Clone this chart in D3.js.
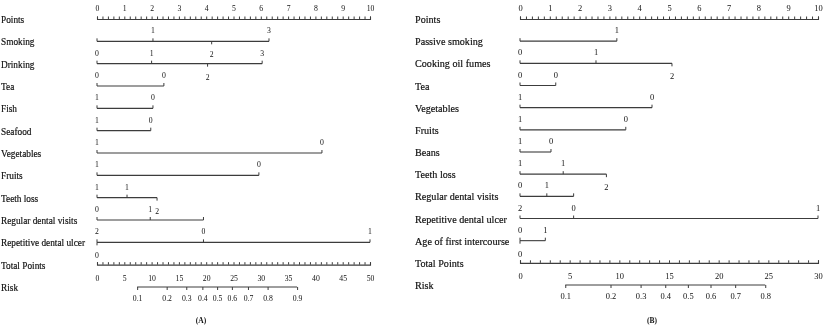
<!DOCTYPE html>
<html>
<head>
<meta charset="utf-8">
<script src="https://d3js.org/d3.v7.min.js"></script>
<title>Nomograms</title>
<style>
  body { margin: 0; background: #fff; }
  svg { filter: grayscale(100%); }
  text { font-family: "Liberation Serif", "Times New Roman", serif; fill: #111; }
</style>
</head>
<body>
<div id="chart"></div>
<script>
// ---- panel A ----
var namesA = ["Smoking", "Drinking", "Tea", "Fish", "Seafood", "Vegetables", "Fruits",
              "Teeth loss", "Regular dental visits", "Repetitive dental ulcer"];
var levelsA = [["", "1", "2", "3"], ["0", "1", "2", "3"], ["0", "0"], ["1", "0"], ["1", "0"],
               ["1", "0"], ["1", "0"], ["1", "1", "2"], ["0", "1", ""], ["2", "0", "1", "0"]];
var pointsA = [[0, 2.05, 4.2, 6.3], [0, 2.0, 4.05, 6.05], [0, 2.45], [0, 2.05], [0, 1.97],
               [0, 8.24], [0, 5.93], [0, 1.1, 2.2], [0, 1.95, 3.9], [0, 3.9, 10, 0]];
var belowA = [[2], [2], [], [], [], [], [], [2], [], [3]];   // level labels drawn under the line
var totalMaxA = 50;
var riskTicksA = [0.1, 0.2, 0.3, 0.4, 0.5, 0.6, 0.7, 0.8, 0.9];
var lpMidA = 22, lpSlopeA = 0.15;   // total points at risk 0.5, logit per point

// ---- panel B ----
var namesB = ["Passive smoking", "Cooking oil fumes", "Tea", "Vegetables", "Fruits", "Beans",
              "Teeth loss", "Regular dental visits", "Repetitive dental ulcer", "Age of first intercourse"];
var levelsB = [["", "1"], ["0", "1", "2"], ["0", "0"], ["1", "0"], ["1", "0"], ["1", "0"],
               ["1", "1", "2"], ["0", "1", ""], ["2", "0", "1"], ["0", "1", "0"]];
var pointsB = [[0, 3.25], [0, 2.55, 5.1], [0, 1.2], [0, 4.43], [0, 3.55], [0, 1.04],
               [0, 1.45, 2.9], [0, 0.9, 1.8], [0, 1.8, 10], [0, 0.85, 0]];
var belowB = [[], [2], [], [], [], [], [2], [], [], [2]];
var totalMaxB = 30;
var riskTicksB = [0.1, 0.2, 0.3, 0.4, 0.5, 0.6, 0.7, 0.8];
var lpMidB = 16.9, lpSlopeB = 0.178;

var pointTicks = d3.range(0, 10.001, 0.2);

var svg = d3.select("#chart").append("svg")
    .attr("width", 825)
    .attr("height", 328);

var lineColor = "#3c3c3c";
var logit = function(p) { return Math.log(p / (1 - p)); };

function drawPanel(cfg) {
  var g = svg.append("g").attr("color", lineColor);
  var x = d3.scaleLinear().domain([0, 10]).range(cfg.xr);
  var rows = ["Points"].concat(cfg.names, ["Total Points", "Risk"]);
  var y = d3.scalePoint().domain(rows).range(cfg.yr);

  // row names
  g.selectAll("text.rowname").data(rows).enter().append("text")
    .attr("class", "rowname")
    .attr("transform", function(d) { return "translate(" + cfg.lx + "," + (y(d) + 4) + ") scale(" + cfg.sx + ",1)"; })
    .style("font-size", "10.8px")
    .attr("stroke", "#111").attr("stroke-width", 0.2)
    .text(function(d) { return d; });

  // points axis
  var pAxis = g.append("g").attr("transform", "translate(0," + y("Points") + ")")
    .call(d3.axisTop(x).tickValues(pointTicks).tickSizeInner(2.5).tickSizeOuter(2.5).tickPadding(5.5)
      .tickFormat(function(d) { return Math.abs(d - Math.round(d)) < 1e-6 ? Math.round(d) : ""; }));
  styleAxis(pAxis, cfg.sx);

  // variable rows
  cfg.names.forEach(function(name, i) {
    var yy = y(name);
    var pts = cfg.points[i];
    var row = g.append("g").attr("transform", "translate(0," + yy + ")");
    row.append("line")
      .attr("x1", x(0)).attr("x2", x(d3.max(pts)))
      .attr("stroke", lineColor).attr("stroke-width", 1.1);
    var lv = pts.map(function(p, j) {
      return { p: p, label: cfg.levels[i][j], below: cfg.below[i].indexOf(j) >= 0 };
    });
    row.selectAll("line.tick").data(lv).enter().append("line")
      .attr("class", "tick")
      .attr("x1", function(d) { return x(d.p); }).attr("x2", function(d) { return x(d.p); })
      .attr("y1", 0).attr("y2", function(d) { return d.below ? 3 : -3; })
      .attr("stroke", lineColor);
    row.selectAll("text").data(lv).enter().append("text")
      .attr("transform", function(d) { return "translate(" + x(d.p) + "," + (d.below ? 16 : -8) + ") scale(" + cfg.sx + ",1)"; })
      .attr("text-anchor", "middle")
      .style("font-size", "9px")
      .text(function(d) { return d.label; });
  });

  // total points axis
  var tp = d3.scaleLinear().domain([0, cfg.totalMax]).range(cfg.xr);
  var tAxis = g.append("g").attr("transform", "translate(0," + y("Total Points") + ")")
    .call(d3.axisBottom(tp).tickValues(d3.range(0, cfg.totalMax + 1, 1)).tickSizeInner(-2.5).tickSizeOuter(-2.5).tickPadding(10)
      .tickFormat(function(d) { return d % 5 === 0 ? d : ""; }));
  styleAxis(tAxis, cfg.sx);

  // risk axis, placed through the linear predictor
  var rx = d3.scaleLinear()
    .domain([-cfg.mid * cfg.slope, (cfg.totalMax - cfg.mid) * cfg.slope])
    .range(cfg.xr);
  var rVals = cfg.risk.map(logit);
  var rAxis = g.append("g").attr("transform", "translate(0," + y("Risk") + ")")
    .call(d3.axisBottom(rx).tickValues(rVals).tickSizeInner(3).tickSizeOuter(0).tickPadding(5)
      .tickFormat(function(d, i) { return cfg.risk[i]; }));
  rAxis.select(".domain").remove();
  rAxis.append("line")
    .attr("x1", rx(rVals[0])).attr("x2", rx(rVals[rVals.length - 1]))
    .attr("stroke", lineColor);
  styleAxis(rAxis, cfg.sx);

  g.append("text")
    .attr("x", cfg.letterX).attr("y", 323)
    .attr("text-anchor", "middle")
    .style("font-size", "7.5px").style("font-weight", "bold")
    .text(cfg.letter);
}

function styleAxis(a, sx) {
  a.attr("font-family", null).attr("font-size", null);
  a.selectAll("text").style("font-size", "9px").attr("fill", "#111")
    .attr("transform", "scale(" + sx + ",1)");
  a.selectAll("line").attr("stroke", lineColor);
  a.select(".domain").attr("stroke", lineColor).attr("stroke-width", 1.1);
}

drawPanel({ names: namesA, levels: levelsA, points: pointsA, below: belowA, totalMax: totalMaxA,
            risk: riskTicksA, mid: lpMidA, slope: lpSlopeA,
            xr: [97, 370], yr: [19, 287], lx: 1, sx: 0.86, letter: "(A)", letterX: 201 });
drawPanel({ names: namesB, levels: levelsB, points: pointsB, below: belowB, totalMax: totalMaxB,
            risk: riskTicksB, mid: lpMidB, slope: lpSlopeB,
            xr: [520, 818], yr: [19, 285], lx: 415, sx: 0.94, letter: "(B)", letterX: 652 });
</script>
</body>
</html>
